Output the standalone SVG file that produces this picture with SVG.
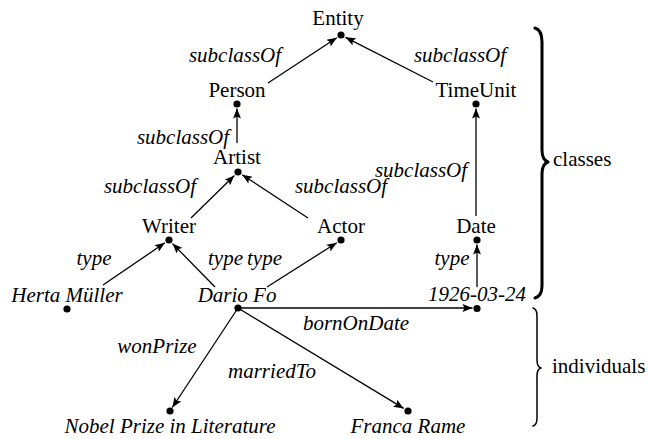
<svg xmlns="http://www.w3.org/2000/svg" width="649" height="439" viewBox="0 0 649 439" font-family="'Liberation Serif', 'DejaVu Serif', serif">
<style>
text{font-family:'Liberation Serif','DejaVu Serif',serif;font-size:21px;fill:#000;text-anchor:middle}
.i{font-style:italic}
.e{stroke:#000;stroke-width:1.3;fill:none;marker-end:url(#a)}
.d{fill:#000}
.b{fill:none;stroke:#000;stroke-linecap:round;stroke-linejoin:round}
.s{text-anchor:start}
</style>
<defs>
<marker id="a" viewBox="0 0 10 8" refX="10" refY="4" markerWidth="11" markerHeight="8" orient="auto" markerUnits="userSpaceOnUse">
<path d="M0,0 L10,4 L0,8 L2,4 Z" fill="#000"/>
</marker>
</defs>
<rect width="649" height="439" fill="#fff"/>
<g id="connectors">
<line class="e" x1="268" y1="83" x2="336.8" y2="37.7"/>
<line class="e" x1="433" y1="82" x2="345.5" y2="37.3"/>
<line class="e" x1="237" y1="143" x2="237" y2="108.5"/>
<line class="e" x1="476" y1="216" x2="476" y2="108.5"/>
<line class="e" x1="191" y1="218" x2="234.4" y2="175.5"/>
<line class="e" x1="308" y1="218" x2="242.2" y2="174.7"/>
<line class="e" x1="103" y1="285" x2="164.9" y2="242.8"/>
<line class="e" x1="215" y1="287" x2="172.5" y2="243.6"/>
<line class="e" x1="267" y1="287" x2="336.8" y2="242.7"/>
<line class="e" x1="477" y1="287" x2="477" y2="244.5"/>
<line class="e" x1="238" y1="308" x2="472.5" y2="308"/>
<line class="e" x1="238" y1="308" x2="172.3" y2="407.5"/>
<line class="e" x1="238" y1="308" x2="403.7" y2="408.4"/>
<text class="i" x="235" y="62">subclassOf</text>
<text class="i" x="460" y="62">subclassOf</text>
<text class="i" x="183" y="144">subclassOf</text>
<text class="i" x="421" y="177">subclassOf</text>
<text class="i" x="150" y="193">subclassOf</text>
<text class="i" x="341" y="193">subclassOf</text>
<text class="i" x="94" y="265">type</text>
<text class="i" x="225.5" y="265">type</text>
<text class="i" x="264.5" y="265">type</text>
<text class="i" x="452" y="265">type</text>
<text class="i" x="356" y="330">bornOnDate</text>
<text class="i" x="157" y="353">wonPrize</text>
<text class="i" x="272" y="378">marriedTo</text>
</g>
<g id="entity"><text x="338" y="25">Entity</text><circle class="d" cx="341" cy="35" r="3.6"/></g>
<g id="person"><text x="237" y="97">Person</text><circle class="d" cx="237" cy="104" r="3.6"/></g>
<g id="timeunit"><text x="476" y="97">TimeUnit</text><circle class="d" cx="476" cy="104" r="3.6"/></g>
<g id="artist"><text x="237" y="164">Artist</text><circle class="d" cx="238" cy="172" r="3.6"/></g>
<g id="writer"><text x="169" y="233">Writer</text><circle class="d" cx="169" cy="240" r="3.6"/></g>
<g id="actor"><text x="341" y="233">Actor</text><circle class="d" cx="341" cy="240" r="3.6"/></g>
<g id="date"><text x="476" y="233">Date</text><circle class="d" cx="477" cy="240" r="3.6"/></g>
<g id="herta"><text class="i" x="67" y="302">Herta Müller</text><circle class="d" cx="67" cy="309" r="3.6"/></g>
<g id="dario"><text class="i" x="237" y="302">Dario Fo</text><circle class="d" cx="238" cy="308" r="3.6"/></g>
<g id="date1926"><text class="i" x="477" y="301">1926-03-24</text><circle class="d" cx="477" cy="308.5" r="3.6"/></g>
<g id="nobel"><text class="i" x="170" y="433">Nobel Prize in Literature</text><circle class="d" cx="170" cy="411" r="3.6"/></g>
<g id="franca"><text class="i" x="408" y="433">Franca Rame</text><circle class="d" cx="408" cy="411" r="3.6"/></g>
<g id="classes">
<path class="b" stroke-width="3" d="M535,28 Q542,30 542,42 L542,150 Q542,160 548,162 Q542,164 542,174 L542,286 Q542,296 535,298"/>
<text class="s" x="553" y="166">classes</text>
</g>
<g id="individuals">
<path class="b" stroke-width="1.5" d="M533,308 Q537,309 537,316 L537,360 Q537,367 541,368 Q537,369 537,376 L537,418 Q537,425 533,426"/>
<text class="s" x="552" y="373">individuals</text>
</g>
</svg>
